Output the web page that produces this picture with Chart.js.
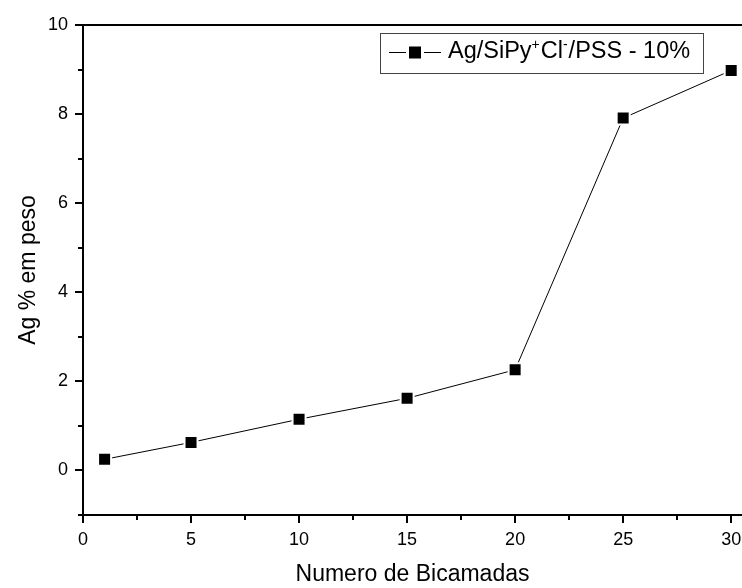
<!DOCTYPE html>
<html>
<head>
<meta charset="utf-8">
<title>Ag % em peso</title>
<script src="https://cdn.jsdelivr.net/npm/chart.js@4"></script>
<style>
  html, body { margin: 0; padding: 0; background: #fff; }
  #wrap { width: 742px; height: 588px; position: relative; }
</style>
</head>
<body>
<div id="wrap"><canvas id="chart"></canvas></div>
<script>
// ── DATA ────────────────────────────────────────
const bicamadas = [1, 5, 10, 15, 20, 25, 30];
const agPeso    = [0.25, 0.63, 1.15, 1.62, 2.26, 7.91, 8.98];
const xTicks    = [0, 5, 10, 15, 20, 25, 30];
const xMinor    = [2.5, 7.5, 12.5, 17.5, 22.5, 27.5];
const yTicks    = [0, 2, 4, 6, 8, 10];
const yMinor    = [-1, 1, 3, 5, 7, 9];
const seriesLabel = ['Ag/SiPy', '+', 'Cl', '-', '/PSS - 10%'];   // normal / sup / normal / sup / normal

const FONT = "'Liberation Sans', Arial, sans-serif";

// ── PLUGIN: frame, minor ticks, legend ──────────
const originStyle = {
  id: 'originStyle',
  afterDraw(chart) {
    const { ctx, chartArea: a, scales: { x, y } } = chart;
    ctx.save();
    ctx.strokeStyle = '#000';
    ctx.lineWidth = 2;
    // top border (frame runs off the right edge of the picture)
    ctx.beginPath();
    ctx.moveTo(a.left, a.top);
    ctx.lineTo(chart.width, a.top);
    ctx.stroke();
    // minor ticks
    ctx.beginPath();
    xMinor.forEach(v => {
      const px = Math.round(x.getPixelForValue(v));
      ctx.moveTo(px, a.bottom);
      ctx.lineTo(px, a.bottom + 5);
    });
    yMinor.forEach(v => {
      const py = Math.round(y.getPixelForValue(v));
      ctx.moveTo(a.left, py);
      ctx.lineTo(a.left - 5, py);
    });
    ctx.stroke();

    // legend box
    const bx = 380.5, by = 33.5, bw = 323, bh = 40;
    ctx.lineWidth = 1;
    ctx.strokeStyle = '#444';
    ctx.strokeRect(bx, by, bw, bh);
    const my = 52;
    ctx.strokeStyle = '#000';
    ctx.beginPath();
    ctx.moveTo(389, my + 0.5); ctx.lineTo(406, my + 0.5);
    ctx.moveTo(424, my + 0.5); ctx.lineTo(441, my + 0.5);
    ctx.stroke();
    ctx.fillStyle = '#000';
    ctx.fillRect(409, my - 5.5, 12, 12);

    // legend text with superscripts
    let tx = 448;
    const base = 58;
    ctx.textBaseline = 'alphabetic';
    seriesLabel.forEach((part, i) => {
      const sup = i % 2 === 1;
      ctx.font = (sup ? '14px ' : '23.5px ') + FONT;
      ctx.fillText(part, tx, sup ? base - 9 : base);
      tx += ctx.measureText(part).width + (sup ? 1 : 0);
    });
    ctx.restore();
  }
};

// ── CHART ───────────────────────────────────────
new Chart(document.getElementById('chart'), {
  type: 'line',
  data: {
    datasets: [{
      data: bicamadas.map((b, i) => ({ x: b, y: agPeso[i] })),
      borderColor: '#000',
      borderWidth: 1,
      pointStyle: 'rect',
      pointRadius: 9.2,
      pointHoverRadius: 9.2,
      pointBackgroundColor: '#000',
      pointBorderColor: '#fff',
      pointBorderWidth: 2,
      tension: 0,
      fill: false,
      clip: false
    }]
  },
  options: {
    responsive: true,
    maintainAspectRatio: false,
    animation: false,
    layout: { autoPadding: false, padding: { top: 25, right: 0, bottom: 0, left: 0 } },
    plugins: { legend: { display: false }, tooltip: { enabled: false } },
    scales: {
      x: {
        type: 'linear',
        min: 0,
        max: 30.5,
        afterBuildTicks: s => { s.ticks = xTicks.map(v => ({ value: v })); },
        afterFit: s => { s.height = 73; s.paddingRight = 0; },
        grid: { display: true, drawOnChartArea: false, drawTicks: true, tickLength: 8, color: '#000', lineWidth: 2 },
        border: { display: true, color: '#000', width: 2 },
        ticks: { color: '#000', font: { family: FONT, size: 18 }, padding: 6, maxRotation: 0 },
        title: {
          display: true,
          text: 'Numero de Bicamadas',
          color: '#000',
          font: { family: FONT, size: 23, lineHeight: 1 },
          padding: { top: 0, bottom: 2 }
        }
      },
      y: {
        type: 'linear',
        min: -1,
        max: 10,
        afterBuildTicks: s => { s.ticks = yTicks.map(v => ({ value: v })); },
        afterFit: s => { s.width = 83; },
        grid: { display: true, drawOnChartArea: false, drawTicks: true, tickLength: 8, color: '#000', lineWidth: 2 },
        border: { display: true, color: '#000', width: 2 },
        ticks: { color: '#000', font: { family: FONT, size: 18 }, padding: 7 },
        title: {
          display: true,
          text: 'Ag % em peso',
          color: '#000',
          font: { family: FONT, size: 23, lineHeight: 1 },
          padding: { top: 17, bottom: 0 }
        }
      }
    }
  },
  plugins: [originStyle]
});
</script>
</body>
</html>
